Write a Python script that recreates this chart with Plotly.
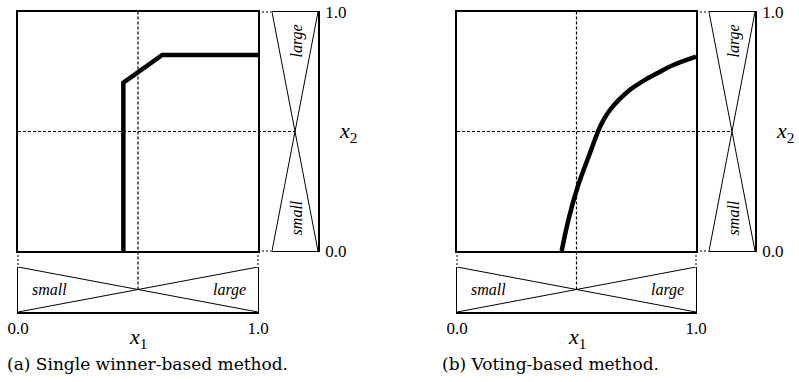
import plotly.graph_objects as go

W, H = 799, 382

# ---------------- data ----------------
TICK_VALS = [0.0, 1.0]
TICK_TEXT = ["0.0", "1.0"]
CROSS = 0.5                      # crossing point of small / large membership functions
MF_POS = [0.0, 1.0]              # positions along input axis
MF_SMALL = [1.0, 0.0]            # membership grade of "small"
MF_LARGE = [0.0, 1.0]            # membership grade of "large"
MF_NAMES = ["small", "large"]

# (a) single winner-based method: decision boundary
A_X1 = [0.439, 0.439, 0.601, 1.0]
A_X2 = [0.0, 0.704, 0.820, 0.820]

# (b) voting-based method: decision boundary
B_X1 = [0.438, 0.466, 0.505, 0.556, 0.595, 0.615, 0.640, 0.675, 0.720, 0.780, 0.840, 0.905, 1.0]
B_X2 = [0.0, 0.130, 0.269, 0.409, 0.512, 0.552, 0.590, 0.630, 0.672, 0.712, 0.745, 0.778, 0.813]

CAPTIONS = ["(a) Single winner-based method.", "(b) Voting-based method."]

# ---------------- layout geometry (pixels) ----------------
PANELS = [
    dict(main=(18, 258), right=(272, 318), cap_x=5, x2_x=348, curve=(A_X1, A_X2), shape="linear"),
    dict(main=(457, 696), right=(709, 755), cap_x=440, x2_x=785, curve=(B_X1, B_X2), shape="spline"),
]
MAIN_Y = (12, 251)
BOT_Y = (267, 312)

def fx(px):
    return px / W

def fy(py):
    return 1 - py / H

SERIF = "Liberation Serif"
CAPFONT = "DejaVu Serif"
fig = go.Figure()
layout = dict(width=W, height=H, autosize=False,
              margin=dict(l=0, r=0, t=0, b=0, pad=0, autoexpand=False),
              paper_bgcolor="white", plot_bgcolor="white", showlegend=False)
shapes, annotations = [], []

def aname(k):
    return "" if k == 1 else str(k)

dash = dict(color="black", width=1.2, dash="3px,2px")

def ann(**kw):
    d = dict(showarrow=False, xanchor="center", yanchor="middle")
    d.update(kw)
    annotations.append(d)

for i, P in enumerate(PANELS):
    km, kb, kr = 3 * i + 1, 3 * i + 2, 3 * i + 3
    xm, ym = "x" + aname(km), "y" + aname(km)
    xb, yb = "x" + aname(kb), "y" + aname(kb)
    xr, yr = "x" + aname(kr), "y" + aname(kr)
    mx = [fx(P["main"][0]), fx(P["main"][1])]
    my = [fy(MAIN_Y[1]), fy(MAIN_Y[0])]
    bx = mx
    by = [fy(BOT_Y[1]), fy(BOT_Y[0])]
    rx = [fx(P["right"][0]), fx(P["right"][1])]
    ry = my

    base = dict(showgrid=False, zeroline=False, ticks="", linecolor="black",
                fixedrange=True, automargin=False)
    # main square
    layout["xaxis" + aname(km)] = dict(base, domain=mx, range=[0, 1], anchor=ym, showline=True,
                                       mirror=True, linewidth=2, showticklabels=False)
    layout["yaxis" + aname(km)] = dict(base, domain=my, range=[0, 1], anchor=xm, showline=True,
                                       mirror=True, linewidth=2, showticklabels=False)
    # bottom membership panel
    layout["xaxis" + aname(kb)] = dict(base, domain=bx, range=[0, 1], anchor=yb, showline=True,
                                       linewidth=1.6, tickvals=TICK_VALS, ticktext=TICK_TEXT,
                                       tickfont=dict(family=SERIF, size=17, color="black"),
                                       ticklabelstandoff=0)
    layout["yaxis" + aname(kb)] = dict(base, domain=by, range=[0, 1], anchor=xb, showline=True,
                                       mirror=True, linewidth=1.3, showticklabels=False)
    # right membership panel
    layout["xaxis" + aname(kr)] = dict(base, domain=rx, range=[1, 0], anchor=yr, showline=True,
                                       mirror=True, linewidth=1.3, showticklabels=False)
    layout["yaxis" + aname(kr)] = dict(base, domain=ry, range=[0, 1], anchor=xr, side="right",
                                       showline=True, linewidth=1.6, tickvals=TICK_VALS,
                                       ticktext=TICK_TEXT,
                                       tickfont=dict(family=SERIF, size=17, color="black"),
                                       ticklabelstandoff=2)

    # decision boundary
    cx, cy = P["curve"]
    fig.add_trace(go.Scatter(x=cx, y=cy, mode="lines", xaxis=xm, yaxis=ym,
                             line=dict(color="black", width=4.5, shape=P["shape"]),
                             hoverinfo="skip"))
    # membership functions
    for mu in (MF_SMALL, MF_LARGE):
        fig.add_trace(go.Scatter(x=MF_POS, y=mu, mode="lines", xaxis=xb, yaxis=yb,
                                 line=dict(color="black", width=1), hoverinfo="skip"))
        fig.add_trace(go.Scatter(x=mu, y=MF_POS, mode="lines", xaxis=xr, yaxis=yr,
                                 line=dict(color="black", width=1), hoverinfo="skip"))

    # dashed guide lines through the crossing points
    shapes.append(dict(type="line", xref=xm, yref="paper", x0=CROSS, x1=CROSS,
                       y0=(by[0] + by[1]) / 2, y1=my[1], line=dash))
    shapes.append(dict(type="line", yref=ym, xref="paper", y0=CROSS, y1=CROSS,
                       x0=mx[0], x1=(rx[0] + rx[1]) / 2, line=dash))
    # dashed connectors between panels
    for d in (0, 1):
        shapes.append(dict(type="line", xref=xm + " domain", yref="paper", x0=d, x1=d,
                           y0=my[0], y1=by[1], line=dict(color="black", width=1, dash="2px,2px")))
        shapes.append(dict(type="line", yref=ym + " domain", xref="paper", y0=d, y1=d,
                           x0=mx[1], x1=rx[0], line=dict(color="black", width=1, dash="2px,2px")))

    # membership labels
    lab_font = dict(family=SERIF, size=16, color="black")
    ann(text="<i>" + MF_NAMES[0] + "</i>", xref=xb, yref=yb, x=0.13, y=0.5, font=lab_font)
    ann(text="<i>" + MF_NAMES[1] + "</i>", xref=xb, yref=yb, x=0.88, y=0.5, font=lab_font)
    ann(text="<i>" + MF_NAMES[1] + "</i>", xref=xr, yref=yr, x=0.46, y=0.88,
        textangle=-90, font=lab_font)
    ann(text="<i>" + MF_NAMES[0] + "</i>", xref=xr, yref=yr, x=0.46, y=0.14,
        textangle=-90, font=lab_font)
    # axis titles
    ann(text="<i>x</i><sub>1</sub>", xref=xb, yref="paper", x=CROSS, y=fy(338),
        font=dict(family=SERIF, size=22, color="black"))
    ann(text="<i>x</i><sub>2</sub>", xref="paper", yref=ym, x=fx(P["x2_x"]), y=CROSS,
        font=dict(family=SERIF, size=22, color="black"))
    # caption
    ann(text=CAPTIONS[i], xref="paper", yref="paper", x=fx(P["cap_x"]), y=fy(364),
        xanchor="left", font=dict(family=CAPFONT, size=17, color="black"))

layout["shapes"] = shapes
layout["annotations"] = annotations
fig.update_layout(**layout)
fig.write_html("out.html")
